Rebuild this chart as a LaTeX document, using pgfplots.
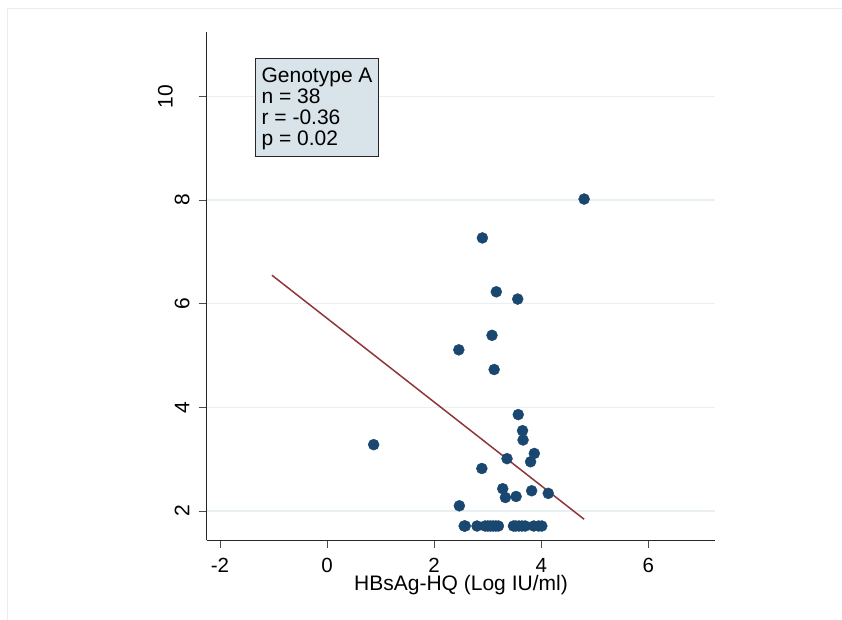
\documentclass[border=0pt]{standalone}
\usepackage{pgfplots}
\pgfplotsset{compat=1.18}
\usepackage{fontspec}
\setmainfont{Liberation Sans}
\definecolor{statanavy}{RGB}{26,71,111}
\definecolor{statamaroon}{RGB}{144,53,59}
\definecolor{gridc}{RGB}{232,240,242}
\definecolor{boxfill}{RGB}{216,228,234}
\definecolor{framec}{RGB}{232,238,240}
\begin{document}
\begin{tikzpicture}[x=1bp,y=1bp]
\path[use as bounding box, fill=white] (0,0) rectangle (842,620);
\draw[framec, line width=0.8bp] (7.5,0) -- (7.5,611.5) -- (842,611.5);
\begin{axis}[
  at={(206.7bp,80bp)}, anchor=south west,
  scale only axis, width=508.6bp, height=508.3bp,
  xmin=-2.248, xmax=7.25, ymin=1.44, ymax=11.25,
  axis x line*=bottom, axis y line*=left,
  axis line style={black!85, line width=0.9bp},
  xtick={-2,0,2,4,6}, xticklabels={-2,0,2,4,6},
  ytick={2,4,6,8,10}, yticklabels={2,4,6,8,\raisebox{16.6bp}{10}},
  tick align=outside, major tick length=8bp,
  tick style={black!70, line width=0.9bp},
  ymajorgrids, major grid style={gridc, line width=1.2bp},
  xticklabel shift=24.3bp, yticklabel shift=9.4bp,
  xticklabel style={font=\fontsize{20.5bp}{24bp}\selectfont, anchor=base, inner sep=0pt},
  yticklabel style={font=\fontsize{21bp}{25bp}\selectfont, rotate=90, anchor=base, inner sep=0pt},
  xlabel={HBsAg-HQ (Log IU/ml)},
  xlabel style={font=\fontsize{21bp}{25bp}\selectfont, at={(axis description cs:0.5,0)}, anchor=base, inner sep=0pt, yshift=-51bp},
  clip=false,
]
\addplot[only marks, mark=*, mark size=5.5bp, mark options={fill=statanavy, draw=statanavy}] coordinates {
(2.90,7.27) (3.16,6.23) (3.56,6.09) (3.08,5.39) (2.46,5.11) (3.12,4.73)
(4.80,8.02) (0.87,3.28) (3.57,3.86) (3.65,3.55) (3.66,3.37) (3.87,3.11)
(3.80,2.95) (3.36,3.01) (2.89,2.82) (3.28,2.43) (3.82,2.39) (4.13,2.34)
(3.33,2.26) (3.53,2.28) (2.47,2.10)
(2.56,1.71) (2.58,1.71) (2.80,1.71) (2.95,1.71) (3.00,1.71) (3.05,1.71)
(3.10,1.71) (3.15,1.71) (3.20,1.71) (3.48,1.71) (3.52,1.71) (3.58,1.71)
(3.64,1.71) (3.70,1.71) (3.86,1.71) (3.95,1.71) (4.01,1.71)
};
\addplot[statamaroon, line width=1.5bp] coordinates {(-1.03,6.55) (4.80,1.84)};
\node[draw=black!85, line width=0.8bp, fill=boxfill, anchor=north west, inner xsep=5.5bp, inner ysep=0pt,
  align=left, minimum width=122.7bp, font=\fontsize{21bp}{21.1bp}\selectfont]
  at (axis cs:-1.34,10.75) {\rule{0pt}{24.6bp}Genotype A\\n = 38\\r = -0.36\\p = 0.02\rule[-10bp]{0pt}{10bp}};
\end{axis}
\end{tikzpicture}
\end{document}
